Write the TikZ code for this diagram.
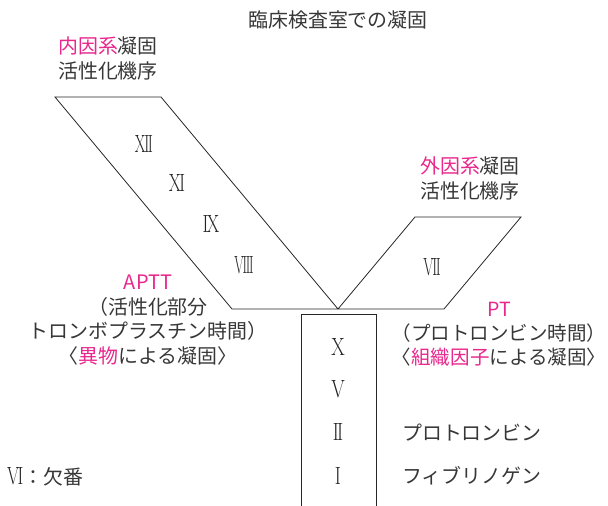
\documentclass[tikz,border=0pt]{standalone}
\usepackage{fontspec}
\usepackage{graphicx}
\newfontfamily\jp{Noto Sans CJK JP}
\definecolor{pk}{RGB}{232,40,140}
\definecolor{tx}{RGB}{55,55,55}
\definecolor{nm}{RGB}{35,35,35}
\newcommand\kk{\kern-0.09em}
\newcommand\rnum[2]{\scalebox{#1}[1]{#2}}
\tikzset{
  jt/.style={font=\jp\fontsize{20}{24.5}\selectfont, text=tx, inner sep=0pt, align=center},
  num/.style={font=\fontsize{25}{25}\selectfont, text=nm, inner sep=0pt},
  ln/.style={draw=black!85, line width=0.8bp, line join=miter},
}
\begin{document}
\begin{tikzpicture}[x=1bp, y=-1bp]
\useasboundingbox (0,0) rectangle (608,506);
% geometry
\coordinate (apex) at (338,309);
\coordinate (lTL) at (55,97);
\coordinate (lTR) at (161,97);
\coordinate (lBL) at (232,309);
\coordinate (rTL) at (415,217);
\coordinate (rTR) at (521,217);
\coordinate (rBR) at (444,309);
\coordinate (bTL) at (301,506);
\coordinate (bTT) at (301,314);
\coordinate (bTR) at (376,314);
\coordinate (bBR) at (376,506);
\draw[ln] (lBL) -- (lTL) -- (lTR) -- (apex) -- (rTL) -- (rTR) -- (rBR) -- cycle;
\draw[ln] (bTL) -- (bTT) -- (bTR) -- (bBR);
% texts
\node[jt] (title) at (338,20) {臨床検査室での凝固};
\node[jt] (intr) at (108,58.5) {\textcolor{pk}{内因系}凝固\\活性化機序};
\node[jt] (extr) at (470,178.5) {\textcolor{pk}{外因系}凝固\\活性化機序};
\node[jt] (aptt) at (148,320) {\textcolor{pk}{APTT}\\（活性化部分\\トロンボプラスチン時間）\\〈\textcolor{pk}{異物}による凝固〉};
\node[jt, font=\jp\fontsize{19.6}{24}\selectfont] (pt) at (499,334) {\textcolor{pk}{PT}\\（プロトロンビン時間）\\〈\textcolor{pk}{組織因子}による凝固〉};
\node[jt, anchor=west] (prot) at (402,433) {プロトロンビン};
\node[jt, anchor=west] (fib) at (402,476) {フィブリノゲン};
% numerals
\node[num] (n12) at (144,144) {\rnum{0.62}{X\kk I\kk I}};
\node[num] (n11) at (177,183) {\rnum{0.7}{X\kk I}};
\node[num] (n9) at (211,224) {\rnum{0.72}{I\kk X}};
\node[num] (n8) at (244,265) {\rnum{0.55}{V\kk I\kk I\kk I}};
\node[num] (n7) at (432,267) {\rnum{0.6}{V\kk I\kk I}};
\node[num] (n10) at (338,347) {\rnum{0.78}{X}};
\node[num] (n5) at (338,389) {\rnum{0.78}{V}};
\node[num] (n2) at (338,432) {\rnum{0.74}{I\kk I}};
\node[num] (n1) at (338,476) {\rnum{0.74}{I}};
\node[anchor=west, inner sep=0pt] (n6) at (7,477) {\textcolor{nm}{\fontsize{25}{25}\selectfont\rnum{0.7}{V\kk I}}\hspace{0.5pt}{\jp\fontsize{20}{24}\selectfont\textcolor{tx}{：欠番}}};
\end{tikzpicture}
\end{document}
